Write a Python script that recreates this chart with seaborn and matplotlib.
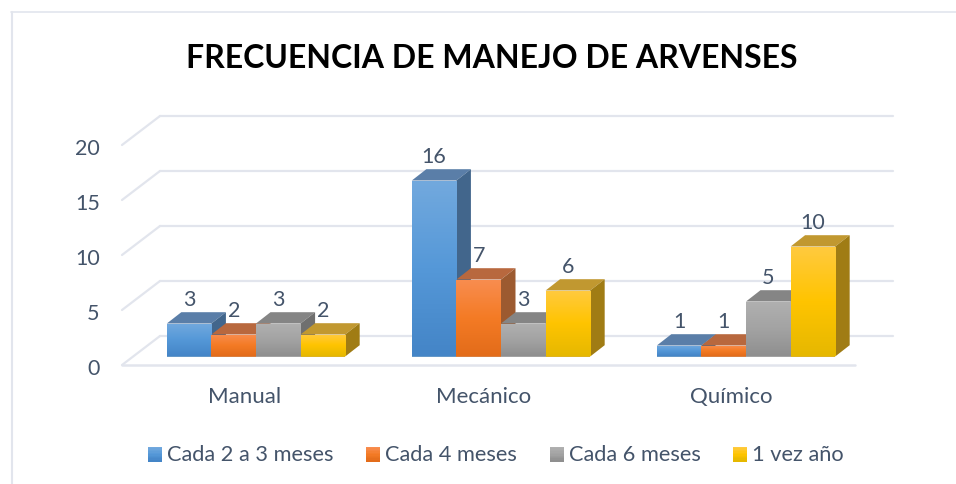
import numpy as np
import pandas as pd
import seaborn as sns
import matplotlib.pyplot as plt
from matplotlib.legend_handler import HandlerBase
from matplotlib.lines import Line2D
from matplotlib.patches import Polygon, Rectangle
from matplotlib.colors import LinearSegmentedColormap
from matplotlib.transforms import ScaledTranslation

categories = ['Manual', 'Mecánico', 'Químico']
series = ['Cada 2 a 3 meses', 'Cada 4 meses', 'Cada 6 meses', '1 vez año']
cada_2_3 = [3, 16, 1]
cada_4 = [2, 7, 1]
cada_6 = [3, 3, 5]
una_vez = [2, 6, 10]
y_ticks = [0, 5, 10, 15, 20]

# front colours top -> middle -> bottom, then top face and side face
front_cols = [['#72a9de', '#5598d8', '#4485c7'],
              ['#f88d50', '#f47b25', '#e36c1a'],
              ['#b0b0b0', '#a3a3a3', '#8f8f8f'],
              ['#ffca3f', '#ffc400', '#e6b800']]
top_cols = ['#5a7ea8', '#b8683e', '#858585', '#c19830']
side_cols = ['#42668c', '#9c5a30', '#6f6f6f', '#a07c14']
grid_col = '#e2e5ed'
text_col = '#44546a'

sns.set_theme(style='white')
plt.rcParams['font.family'] = ['Lato', 'DejaVu Sans']

df = pd.DataFrame({'cat': categories * 4,
                   'serie': np.repeat(series, 3),
                   'val': cada_2_3 + cada_4 + cada_6 + una_vez})

fig = plt.figure(figsize=(9.56, 4.84), dpi=100)
# the axes is the front edge of the floor, bars stand a bit behind it
ax = fig.add_axes([122 / 956, (484 - 365) / 484, 735 / 956, 220 / 484])
sns.barplot(data=df, x='cat', y='val', hue='serie', order=categories, hue_order=series,
            width=0.728, gap=0, palette=[c[1] for c in front_cols], legend=False,
            errorbar=None, edgecolor='none', linewidth=0, ax=ax)
ax.set_xlabel('')
ax.set_ylabel('')
sns.despine(ax=ax, left=True, bottom=True)

# offsets in data units (245 px per category, 11 px per unit)
back_dx, back_dy = 38 / 245, 29 / 11
bar_dx, bar_dy = 11.5 / 245, 8.5 / 11
deep_dx, deep_dy = 14.5 / 245, 11.3 / 11

# walls
for t in y_ticks:
    ax.plot([-0.5, -0.5 + back_dx], [t, t + back_dy], color=grid_col, lw=1.6, clip_on=False, zorder=1)
    ax.plot([-0.5 + back_dx, 2.5 + back_dx - 0.01], [t + back_dy, t + back_dy], color=grid_col, lw=1.6,
            clip_on=False, zorder=1)
ax.plot([-0.5, 2.49], [0, 0], color=grid_col, lw=1.8, clip_on=False, zorder=1)

# 3d faces of the bars, painted left to right so the next bar hides the previous side
bars = []
for s, cont in enumerate(ax.containers):
    for p in cont:
        p.set_x(p.get_x() + bar_dx)
        p.set_y(bar_dy)
        bars.append((p, s))
    ax.bar_label(cont, labels=[str(int(p.get_height())) for p in cont], padding=10,
                 color=text_col, fontsize=15.5, zorder=100)

for i, (p, s) in enumerate(sorted(bars, key=lambda b: b[0].get_x())):
    x0, w, h = p.get_x(), p.get_width(), p.get_height()
    y0 = p.get_y()
    y1 = y0 + h
    z = 3 + i
    ax.add_patch(Polygon([(x0, y1), (x0 + w, y1), (x0 + w + deep_dx, y1 + deep_dy), (x0 + deep_dx, y1 + deep_dy)],
                         fc=top_cols[s], ec='none', zorder=z, clip_on=False))
    ax.add_patch(Polygon([(x0 + w, y0), (x0 + w + deep_dx, y0 + deep_dy), (x0 + w + deep_dx, y1 + deep_dy),
                          (x0 + w, y1)], fc=side_cols[s], ec='none', zorder=z, clip_on=False))
    p.set_zorder(z + 0.1)
    cmap = LinearSegmentedColormap.from_list('f', front_cols[s])
    im = ax.imshow(np.linspace(0, 1, 64).reshape(-1, 1), cmap=cmap, aspect='auto', origin='upper',
                   extent=(x0, x0 + w, y0, y1), zorder=z + 0.2)
    im.set_clip_path(Rectangle((x0, y0), w, h, transform=ax.transData))
ax.set_xlim(-0.5, 2.5)
ax.set_ylim(0, 20)

ax.set_yticks(y_ticks)
ax.set_yticklabels([str(t) for t in y_ticks])
ax.tick_params(axis='y', length=0, pad=16, labelsize=15.5, labelcolor=text_col)
ax.tick_params(axis='x', length=0, pad=16, labelsize=16, labelcolor=text_col)
for lab in ax.get_yticklabels():
    lab.set_transform(lab.get_transform() + ScaledTranslation(0, -1.5 / 72, fig.dpi_scale_trans))
# category labels do not sit quite in the middle in the original
for lab, dx in zip(ax.get_xticklabels(), [0, -4, -2]):
    lab.set_transform(lab.get_transform() + ScaledTranslation(dx / 72, 0, fig.dpi_scale_trans))


class GradSwatch(HandlerBase):
    def create_artists(self, legend, orig, xd, yd, width, height, fontsize, trans):
        cols = LinearSegmentedColormap.from_list('f', orig.get_gid().split(','))
        n = 10
        return [Rectangle((-xd, -yd + height * (1 - (k + 1) / n) - 1), width, height / n + 0.4,
                          fc=cols(k / (n - 1)), ec='none', transform=trans) for k in range(n)]


handles = []
for s in range(4):
    h = Line2D([], [], label=series[s])
    h.set_gid(','.join(front_cols[s]))
    handles.append(h)
fig.legend(handles=handles, loc='center', bbox_to_anchor=(496 / 956, (484 - 455) / 484), ncol=4, frameon=False,
           fontsize=15.7, labelcolor=text_col, handler_map={Line2D: GradSwatch()}, handlelength=0.64,
           handleheight=0.64, handletextpad=0.23, columnspacing=1.49, borderpad=0)

fig.text(491.5 / 956, (484 - 58) / 484, 'FRECUENCIA DE MANEJO DE ARVENSES', ha='center', va='center',
         fontsize=23, fontweight='bold', color='black')

# chart frame, only left and top are in the picture
fig.add_artist(Line2D([11.5 / 956, 11.5 / 956], [0, (484 - 12) / 484], color=grid_col, lw=1.5))
fig.add_artist(Line2D([11 / 956, 1], [(484 - 12) / 484, (484 - 12) / 484], color=grid_col, lw=1.2))

fig.savefig('out.png', dpi=100)
